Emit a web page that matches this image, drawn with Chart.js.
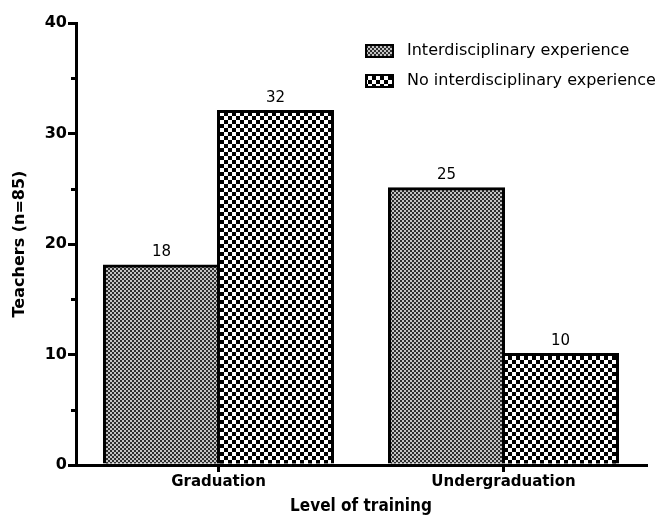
<!DOCTYPE html>
<html>
<head>
<meta charset="utf-8">
<script src="https://cdn.jsdelivr.net/npm/chart.js@4/dist/chart.umd.min.js"></script>
<style>
    html, body { margin: 0; padding: 0; background: #fff; }
    #wrap { width: 666px; height: 521px; position: relative; }
</style>
</head>
<body>
<div id="wrap"><canvas id="chart"></canvas></div>
<script>
const categories = ['Graduation', 'Undergraduation'];
const seriesNames = ['Interdisciplinary experience', 'No interdisciplinary experience'];
const interValues = [18, 25];
const noInterValues = [32, 10];
const yTicks = [0, 10, 20, 30, 40];

// checkerboard fills, like the original hatch patterns
function makePattern(size, cell, dark, light) {
    const c = document.createElement('canvas');
    c.width = size; c.height = size;
    const g = c.getContext('2d');
    g.fillStyle = light;
    g.fillRect(0, 0, size, size);
    g.fillStyle = dark;
    g.fillRect(0, 0, cell, cell);
    g.fillRect(cell, cell, cell, cell);
    return g.createPattern(c, 'repeat');
}

const fineFill = makePattern(4, 2, '#2e2e2e', '#c4c4c4');
const coarseFill = makePattern(8, 4, '#000000', '#ffffff');

const valueLabels = {
    id: 'valueLabels',
    afterDatasetsDraw(chart) {
        const ctx = chart.ctx;
        ctx.save();
        ctx.font = '15px "DejaVu Sans"';
        ctx.fillStyle = '#000';
        ctx.textAlign = 'center';
        ctx.textBaseline = 'bottom';
        chart.data.datasets.forEach((ds, i) => {
            chart.getDatasetMeta(i).data.forEach((bar, j) => {
                ctx.fillText(ds.data[j], bar.x, bar.y - 6);
            });
        });
        ctx.restore();
    }
};

const sideLegend = {
    id: 'sideLegend',
    afterDraw(chart) {
        const ctx = chart.ctx;
        ctx.save();
        // short minor ticks on the y axis
        const y = chart.scales.y;
        ctx.strokeStyle = '#000';
        ctx.lineWidth = 3;
        [5, 15, 25, 35].forEach(v => {
            const py = Math.round(y.getPixelForValue(v)) + 0.5;
            ctx.beginPath();
            ctx.moveTo(chart.chartArea.left - 5, py);
            ctx.lineTo(chart.chartArea.left, py);
            ctx.stroke();
        });

        ctx.font = '16px "DejaVu Sans"';
        ctx.textBaseline = 'middle';
        chart.data.datasets.forEach((ds, i) => {
            const ly = 51 + i * 30;
            ctx.fillStyle = ds.backgroundColor;
            ctx.fillRect(366, ly - 6, 27, 12);
            ctx.lineWidth = 2;
            ctx.strokeRect(366, ly - 6, 27, 12);
            ctx.fillStyle = '#000';
            ctx.fillText(ds.label, 407, ly);
        });
        ctx.restore();
    }
};

new Chart(document.getElementById('chart'), {
    type: 'bar',
    data: {
        labels: categories,
        datasets: [
            { label: seriesNames[0], data: interValues, backgroundColor: fineFill, borderColor: '#000', borderWidth: 3, inflateAmount: 1.5 },
            { label: seriesNames[1], data: noInterValues, backgroundColor: coarseFill, borderColor: '#000', borderWidth: 3, inflateAmount: 1.5 }
        ]
    },
    options: {
        responsive: true, maintainAspectRatio: false,
        animation: false,
        layout: { padding: { top: 23, right: 20, left: 0, bottom: 0 } },
        datasets: { bar: { barPercentage: 1.0, categoryPercentage: 0.8 } },
        plugins: { legend: { display: false }, tooltip: { enabled: false } },
        scales: {
            x: {
                grid: { offset: false, drawOnChartArea: false, tickLength: 7, lineWidth: 3, color: '#000' },
                border: { display: true, width: 3, color: '#000' },
                ticks: { color: '#000', font: { family: 'DejaVu Sans', weight: 'bold', size: 15 }, padding: 1 },
                title: { display: true, text: 'Level of training', color: '#000', font: { family: 'DejaVu Sans Condensed', weight: 'bold', size: 17 }, padding: { top: 2 } },
                afterFit(scale) { scale.height = 56; }
            },
            y: {
                min: 0, max: 40,
                grid: {
                    drawOnChartArea: false, tickLength: 8, lineWidth: 3,
                    color: '#000',
                    tickColor: c => yTicks.includes(c.tick.value) ? '#000' : 'rgba(0,0,0,0)'
                },
                border: { display: true, width: 3, color: '#000' },
                ticks: {
                    stepSize: 5, color: '#000', padding: 1,
                    font: { family: 'DejaVu Sans', weight: 'bold', size: 16 },
                    callback: v => yTicks.includes(v) ? v : ''
                },
                title: { display: true, text: 'Teachers (n=85)', color: '#000', font: { family: 'DejaVu Sans', weight: 'bold', size: 16 }, padding: { top: 10, bottom: 0 } },
                afterFit(scale) { scale.width = 76; }
            }
        }
    },
    plugins: [valueLabels, sideLegend]
});
</script>
</body>
</html>
